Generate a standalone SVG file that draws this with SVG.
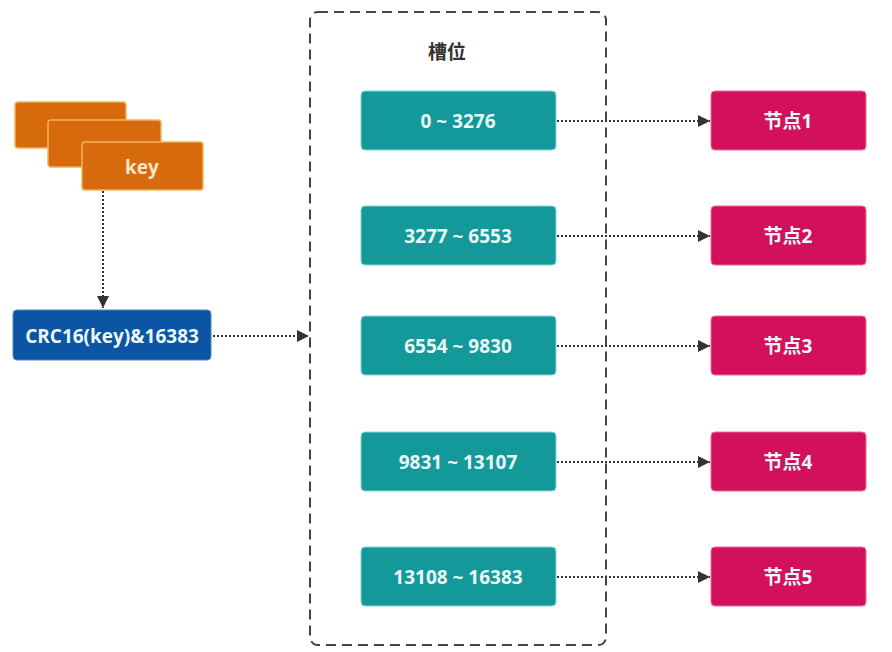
<svg xmlns="http://www.w3.org/2000/svg" width="892" height="652" viewBox="0 0 892 652">
<defs>
<marker id="ah" viewBox="0 0 10 10" refX="10" refY="5" markerWidth="20" markerHeight="12" markerUnits="userSpaceOnUse" orient="auto">
<path d="M0,0 L10,5 L0,10 z" fill="#333"/>
</marker>
<style>
.key{fill:#D76A0C;stroke:#F2B25A;stroke-width:1.5}
.crc{fill:#0B55A4;stroke:#4A86C8;stroke-width:1}
.slot{fill:#14999A;stroke:#7FD9D9;stroke-width:1}
.node{fill:#D3105C;stroke:#F06A9C;stroke-width:1}
.t{font-family:"Open Sans","Noto Sans","Noto Sans CJK SC",sans-serif;font-weight:bold;font-size:19px;text-anchor:middle;dominant-baseline:central}
.tw{fill:#EAF8F8}
.conn{stroke:#333;stroke-width:2;stroke-dasharray:2 2;fill:none}
</style>
</defs>
<rect width="892" height="652" fill="#fff"/>
<g id="container">
<rect x="310" y="12" width="296" height="633" rx="8" fill="none" stroke="#444" stroke-width="2" stroke-dasharray="10 6"/>
<text class="t" x="447" y="52" fill="#333" font-size="20">槽位</text>
</g>
<g id="keys">
<rect class="key" x="15" y="102" width="111" height="46" rx="3"/>
<rect class="key" x="48" y="120" width="113" height="47" rx="3"/>
<rect class="key" x="82" y="142" width="121" height="48" rx="3"/>
<text class="t" x="142" y="167" fill="#F7E6C8" font-size="16">key</text>
</g>
<g id="crc">
<rect class="crc" x="13" y="310" width="198" height="50" rx="4"/>
<text class="t tw" x="112" y="336" font-size="17.5">CRC16(key)&amp;16383</text>
</g>
<g id="slot1"><rect class="slot" x="361" y="91" width="195" height="59" rx="4"/><text class="t tw" x="458" y="121">0 ~ 3276</text></g>
<g id="slot2"><rect class="slot" x="361" y="206" width="195" height="59" rx="4"/><text class="t tw" x="458" y="236">3277 ~ 6553</text></g>
<g id="slot3"><rect class="slot" x="361" y="316" width="195" height="59" rx="4"/><text class="t tw" x="458" y="346">6554 ~ 9830</text></g>
<g id="slot4"><rect class="slot" x="361" y="432" width="195" height="59" rx="4"/><text class="t tw" x="458" y="462">9831 ~ 13107</text></g>
<g id="slot5"><rect class="slot" x="361" y="547" width="195" height="59" rx="4"/><text class="t tw" x="458" y="577">13108 ~ 16383</text></g>
<g id="node1"><rect class="node" x="711" y="91" width="155" height="59" rx="4"/><text class="t tw" x="788" y="121" font-size="18">节点1</text></g>
<g id="node2"><rect class="node" x="711" y="206" width="155" height="59" rx="4"/><text class="t tw" x="788" y="236" font-size="18">节点2</text></g>
<g id="node3"><rect class="node" x="711" y="316" width="155" height="59" rx="4"/><text class="t tw" x="788" y="346" font-size="18">节点3</text></g>
<g id="node4"><rect class="node" x="711" y="432" width="155" height="59" rx="4"/><text class="t tw" x="788" y="462" font-size="18">节点4</text></g>
<g id="node5"><rect class="node" x="711" y="547" width="155" height="59" rx="4"/><text class="t tw" x="788" y="577" font-size="18">节点5</text></g>
<g id="connectors">
<line class="conn" x1="103" y1="191" x2="103" y2="308" marker-end="url(#ah)"/>
<line class="conn" x1="213" y1="336" x2="309" y2="336" marker-end="url(#ah)"/>
<line class="conn" x1="557" y1="121" x2="710" y2="121" marker-end="url(#ah)"/>
<line class="conn" x1="557" y1="236" x2="710" y2="236" marker-end="url(#ah)"/>
<line class="conn" x1="557" y1="346" x2="710" y2="346" marker-end="url(#ah)"/>
<line class="conn" x1="557" y1="462" x2="710" y2="462" marker-end="url(#ah)"/>
<line class="conn" x1="557" y1="577" x2="710" y2="577" marker-end="url(#ah)"/>
</g>
</svg>
